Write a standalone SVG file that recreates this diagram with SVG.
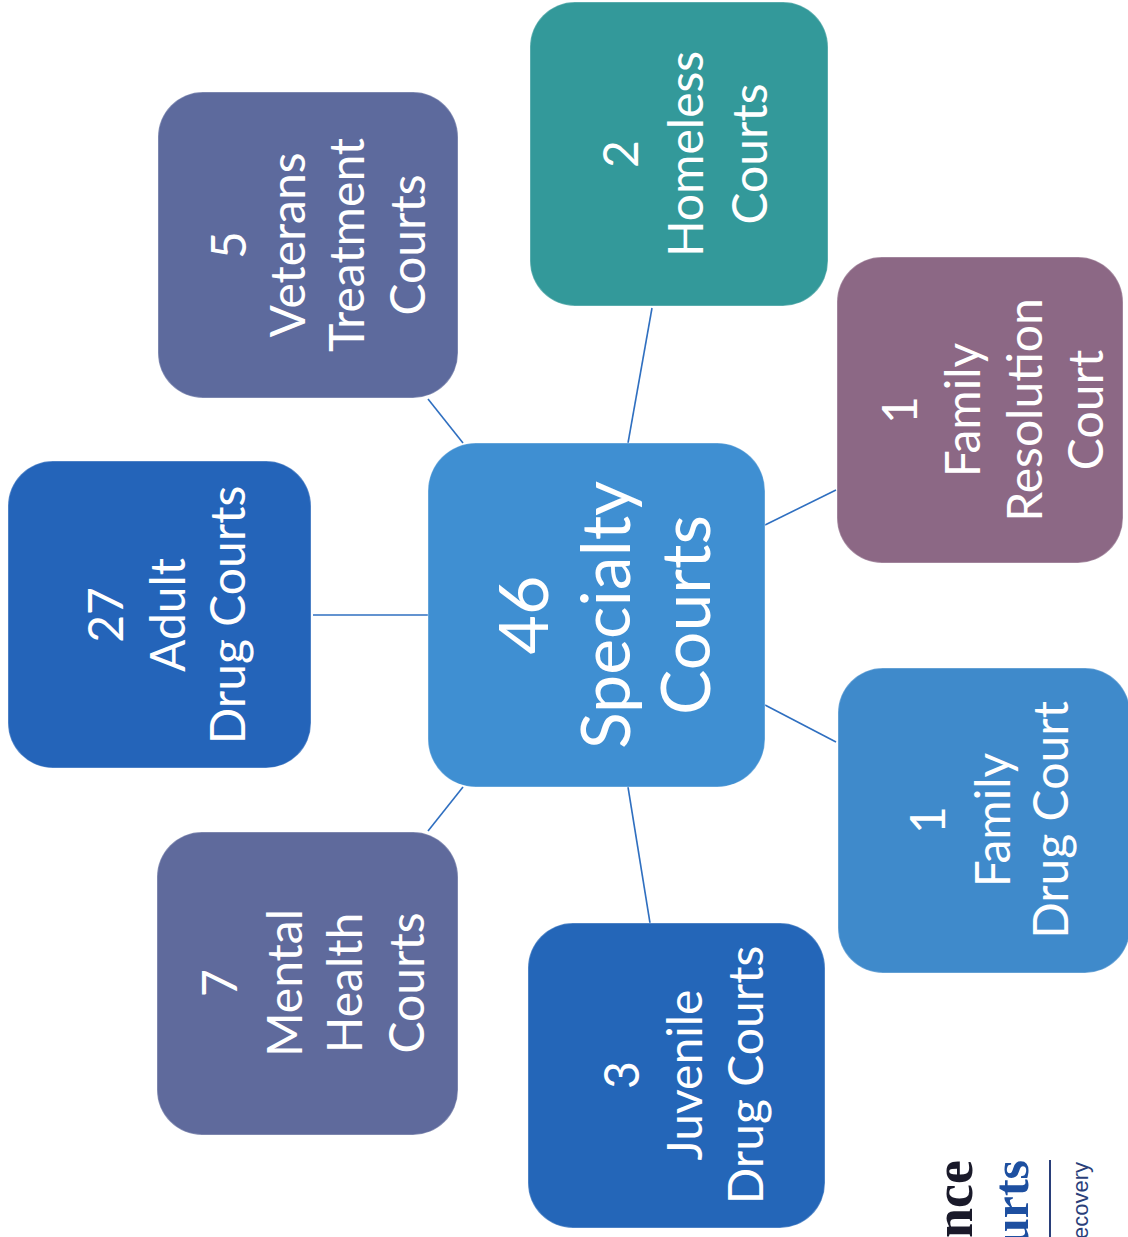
<svg xmlns="http://www.w3.org/2000/svg" width="1128" height="1237" viewBox="0 0 1128 1237">
<style>
.box{stroke:#ffffff;stroke-opacity:0.25;stroke-width:1.5}
.lbl{font-family:Lato,"Open Sans","Liberation Sans",sans-serif;fill:#ffffff;text-anchor:middle;font-size:48px}
.big{font-size:68px}
.conn line{stroke:#2f6fc0;stroke-width:1.6}
</style>
<rect width="1128" height="1237" fill="#ffffff"/>
<g id="connectors" class="conn">
<line x1="313" y1="615" x2="428" y2="615"/>
<line x1="463" y1="443" x2="428" y2="399"/>
<line x1="628" y1="443" x2="652" y2="308"/>
<line x1="765" y1="525" x2="836" y2="490"/>
<line x1="765" y1="705" x2="836" y2="742"/>
<line x1="628" y1="787" x2="650" y2="923"/>
<line x1="463" y1="787" x2="428" y2="831"/>
</g>
<g id="center">
<rect class="box" x="428" y="443" width="337" height="344" rx="48" fill="#3f8fd2"/>
<g transform="translate(596,615) rotate(-90)">
<text class="lbl big" x="0" y="-48">46</text>
<text class="lbl big" x="0" y="34">Specialty</text>
<text class="lbl big" x="0" y="114">Courts</text>
</g>
</g>
<g id="adult">
<rect class="box" x="8" y="461" width="303" height="307" rx="45" fill="#2464b9"/>
<g transform="translate(160,615) rotate(-90)">
<text class="lbl" x="0" y="-37">27</text>
<text class="lbl" x="0" y="25">Adult</text>
<text class="lbl" x="0" y="85">Drug Courts</text>
</g>
</g>
<g id="veterans">
<rect class="box" x="158" y="92" width="300" height="306" rx="45" fill="#5d6a9d"/>
<g transform="translate(308,245) rotate(-90)">
<text class="lbl" x="0" y="-62">5</text>
<text class="lbl" x="0" y="-3">Veterans</text>
<text class="lbl" x="0" y="56">Treatment</text>
<text class="lbl" x="0" y="117">Courts</text>
</g>
</g>
<g id="homeless">
<rect class="box" x="530" y="2" width="298" height="304" rx="45" fill="#33999a"/>
<g transform="translate(679,154) rotate(-90)">
<text class="lbl" x="0" y="-41">2</text>
<text class="lbl" x="0" y="24">Homeless</text>
<text class="lbl" x="0" y="88">Courts</text>
</g>
</g>
<g id="family-resolution">
<rect class="box" x="837" y="257" width="286" height="306" rx="45" fill="#8c6885"/>
<g transform="translate(980,410) rotate(-90)">
<text class="lbl" x="0" y="-63">1</text>
<text class="lbl" x="0" y="0">Family</text>
<text class="lbl" x="0" y="62">Resolution</text>
<text class="lbl" x="0" y="123">Court</text>
</g>
</g>
<g id="family-drug">
<rect class="box" x="838" y="668" width="292" height="305" rx="45" fill="#3f8acb"/>
<g transform="translate(984,820) rotate(-90)">
<text class="lbl" x="0" y="-39">1</text>
<text class="lbl" x="0" y="26">Family</text>
<text class="lbl" x="0" y="84">Drug Court</text>
</g>
</g>
<g id="juvenile">
<rect class="box" x="528" y="923" width="297" height="305" rx="45" fill="#2466b8"/>
<g transform="translate(676,1075) rotate(-90)">
<text class="lbl" x="0" y="-37">3</text>
<text class="lbl" x="0" y="26">Juvenile</text>
<text class="lbl" x="0" y="87">Drug Courts</text>
</g>
</g>
<g id="mental-health">
<rect class="box" x="157" y="832" width="301" height="303" rx="45" fill="#5f6a9c"/>
<g transform="translate(307,983) rotate(-90)">
<text class="lbl" x="0" y="-70">7</text>
<text class="lbl" x="0" y="-5">Mental</text>
<text class="lbl" x="0" y="55">Health</text>
<text class="lbl" x="0" y="117">Courts</text>
</g>
</g>
<g id="logo-fragment">
<text transform="translate(972,1160) rotate(-90)" text-anchor="end" font-family="'Liberation Serif',serif" font-weight="bold" font-size="54" fill="#1a1a2a">nce</text>
<text transform="translate(1028,1160) rotate(-90)" text-anchor="end" font-family="'Liberation Serif',serif" font-weight="bold" font-size="50" fill="#1d4fa0">urts</text>
<line x1="1050" y1="1160" x2="1050" y2="1237" stroke="#2a3f7a" stroke-width="2"/>
<text transform="translate(1088,1162) rotate(-90)" text-anchor="end" font-family="'Liberation Sans',sans-serif" font-size="22" fill="#2a3f7a">ecovery</text>
</g>
</svg>
